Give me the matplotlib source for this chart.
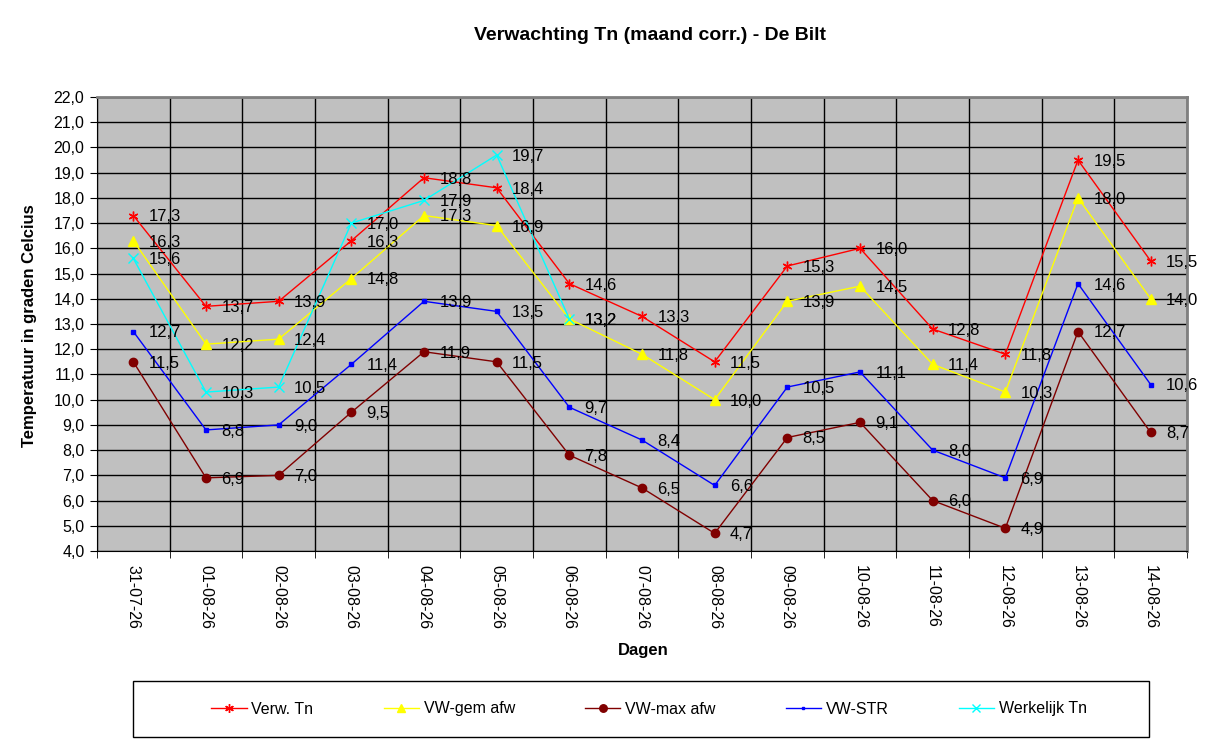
import numpy as np
import matplotlib
matplotlib.use("Agg")
import matplotlib.pyplot as plt
from matplotlib.patches import Rectangle

plt.rcParams['font.family'] = ['Liberation Sans', 'DejaVu Sans']

dagen = ['31-07-26', '01-08-26', '02-08-26', '03-08-26', '04-08-26', '05-08-26',
         '06-08-26', '07-08-26', '08-08-26', '09-08-26', '10-08-26', '11-08-26',
         '12-08-26', '13-08-26', '14-08-26']

verw_tn = [17.3, 13.7, 13.9, 16.3, 18.8, 18.4, 14.6, 13.3, 11.5, 15.3, 16.0, 12.8, 11.8, 19.5, 15.5]
vw_gem = [16.3, 12.2, 12.4, 14.8, 17.3, 16.9, 13.2, 11.8, 10.0, 13.9, 14.5, 11.4, 10.3, 18.0, 14.0]
vw_max = [11.5, 6.9, 7.0, 9.5, 11.9, 11.5, 7.8, 6.5, 4.7, 8.5, 9.1, 6.0, 4.9, 12.7, 8.7]
vw_str = [12.7, 8.8, 9.0, 11.4, 13.9, 13.5, 9.7, 8.4, 6.6, 10.5, 11.1, 8.0, 6.9, 14.6, 10.6]
werkelijk = [15.6, 10.3, 10.5, 17.0, 17.9, 19.7, 13.2, None, None, None, None, None, None, None, None]

series = [
    ('Verw. Tn', verw_tn, '#FF0000', (6, 2, 0), 7),
    ('VW-gem afw', vw_gem, '#FFFF00', '^', 7),
    ('VW-max afw', vw_max, '#800000', 'o', 6),
    ('VW-STR', vw_str, '#0000FF', 's', 2.2),
    ('Werkelijk Tn', werkelijk, '#00FFFF', 'x', 6.5),
]

fig = plt.figure(figsize=(12.21, 7.5), dpi=100)
ax = fig.add_axes([97 / 1221, 1 - 551 / 750, (1187 - 97) / 1221, (551 - 97) / 750])
ax.set_facecolor('#C0C0C0')

x = np.arange(len(dagen))
handles = []
for name, vals, col, mk, ms in series:
    v = np.array([np.nan if a is None else a for a in vals], dtype=float)
    h, = ax.plot(x, v, color=col, lw=1, marker=mk, markersize=ms,
                 markeredgecolor=col, markerfacecolor=col, label=name, zorder=3)
    handles.append(h)
    for xi, vi in zip(x, v):
        if not np.isnan(vi):
            ax.annotate(('%.1f' % vi).replace('.', ','), (xi, vi), xytext=(11, -1),
                        textcoords='offset points', va='center', ha='left',
                        fontsize=12, color='black', zorder=4)

ax.set_xlim(-0.5, len(dagen) - 0.5)
ax.set_ylim(4, 22)
yt = np.arange(4, 23, 1)
ax.set_yticks(yt)
ax.set_yticklabels([('%.1f' % t).replace('.', ',') for t in yt], fontsize=11.5)
ax.set_xticks(x)
ax.set_xticklabels(dagen, rotation=270, fontsize=11.5)
ax.set_xticks(np.arange(-0.5, len(dagen), 1), minor=True)
ax.tick_params(axis='x', which='major', length=0, pad=10)
ax.tick_params(axis='x', which='minor', length=5, direction='out')
ax.tick_params(axis='y', length=5, direction='out', pad=4)

ax.grid(axis='y', which='major', color='black', lw=1, zorder=1)
ax.grid(axis='x', which='minor', color='black', lw=1, zorder=1)
ax.set_axisbelow(True)
for s in ['top', 'right']:
    ax.spines[s].set_color('#808080')
    ax.spines[s].set_linewidth(2)
for s in ['left', 'bottom']:
    ax.spines[s].set_color('black')

fig.text(30 / 1221, 1 - 326 / 750, 'Temperatuur in graden Celcius', rotation=90,
         ha='center', va='center', fontsize=12, fontweight='bold')
fig.text(643 / 1221, 1 - 650 / 750, 'Dagen', ha='center', va='center',
         fontsize=12, fontweight='bold')
fig.text(650 / 1221, 1 - 36 / 750, 'Verwachting Tn (maand corr.) - De Bilt',
         ha='center', va='center', fontsize=14, fontweight='bold')

fig.patches.append(Rectangle((133 / 1221, 1 - 737 / 750), (1149 - 133) / 1221, 56 / 750,
                             transform=fig.transFigure, fill=False, edgecolor='black', lw=1))
fig.legend(handles=handles, loc='center', bbox_to_anchor=(649 / 1221, 1 - 709 / 750),
           ncol=5, frameon=False, fontsize=11.5, handlelength=2.2, handletextpad=0.3,
           columnspacing=4.4, markerscale=0.9)

fig.savefig('out.png', dpi=100)
